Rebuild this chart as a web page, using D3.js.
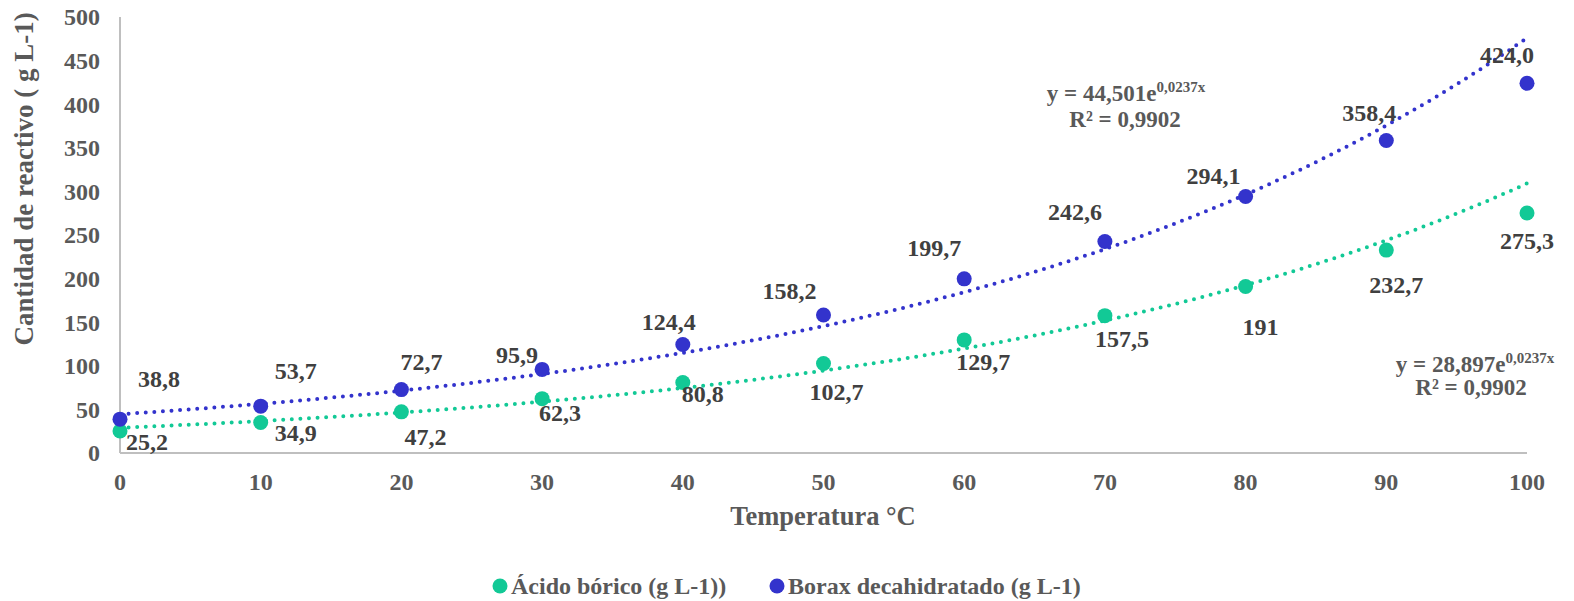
<!DOCTYPE html>
<html>
<head>
<meta charset="utf-8">
<script src="https://cdn.jsdelivr.net/npm/d3@7"></script>
<style>
  body { margin: 0; background: #fff; }
  svg text { font-family: "Liberation Serif", "Times New Roman", serif; font-weight: bold; }
</style>
</head>
<body>
<svg id="chart" width="1574" height="601"></svg>
<script>
// data
const temperatures = [0, 10, 20, 30, 40, 50, 60, 70, 80, 90, 100];
const acidoValues = [25.2, 34.9, 47.2, 62.3, 80.8, 102.7, 129.7, 157.5, 191, 232.7, 275.3];
const boraxValues = [38.8, 53.7, 72.7, 95.9, 124.4, 158.2, 199.7, 242.6, 294.1, 358.4, 424.0];
const acidoLabels = ["25,2", "34,9", "47,2", "62,3", "80,8", "102,7", "129,7", "157,5", "191", "232,7", "275,3"];
const boraxLabels = ["38,8", "53,7", "72,7", "95,9", "124,4", "158,2", "199,7", "242,6", "294,1", "358,4", "424,0"];
const yTicks = [0, 50, 100, 150, 200, 250, 300, 350, 400, 450, 500];
const xTicks = [0, 10, 20, 30, 40, 50, 60, 70, 80, 90, 100];
// exponential trendlines: a * e^(b x)
const acidoFit = [28.897, 0.0237];
const boraxFit = [44.501, 0.0237];

// label offsets (px) from each point, as placed in the original
const boraxLabelOffsets = [[39, -41], [35, -36], [20, -28], [-25, -15], [-14, -23], [-34, -24], [-30, -31], [-30, -30], [-32, -21], [-17, -28], [-20, -29]];
const acidoLabelOffsets = [[27, 11], [35, 10], [24, 25], [18, 14], [20, 11], [13, 28], [19, 22], [17, 23], [15, 40], [10, 35], [0, 28]];

const green = "#12C996";
const blue = "#3333CC";
const axisGray = "#595959";
const labelGray = "#404040";

const svg = d3.select("#chart");
const x = d3.scaleLinear().domain([0, 100]).range([120, 1527]);
const y = d3.scaleLinear().domain([0, 500]).range([453, 17]);

// axes lines
svg.append("line")
  .attr("x1", x(0)).attr("x2", x(0))
  .attr("y1", y(500)).attr("y2", y(0))
  .attr("stroke", "#bfbfbf").attr("stroke-width", 2);
svg.append("line")
  .attr("x1", x(0)).attr("x2", x(100))
  .attr("y1", y(0)).attr("y2", y(0))
  .attr("stroke", "#bfbfbf").attr("stroke-width", 2);

// y tick labels
svg.selectAll("ytick")
  .data(yTicks)
  .enter()
  .append("text")
  .attr("x", 100)
  .attr("y", (d) => y(d))
  .attr("dy", "0.35em")
  .attr("text-anchor", "end")
  .attr("fill", axisGray)
  .style("font-size", "24px")
  .text((d) => d);

// x tick labels
svg.selectAll("xtick")
  .data(xTicks)
  .enter()
  .append("text")
  .attr("x", (d) => x(d))
  .attr("y", 490)
  .attr("text-anchor", "middle")
  .attr("fill", axisGray)
  .style("font-size", "24px")
  .text((d) => d);

// axis titles
svg.append("text")
  .attr("transform", "translate(33,179) rotate(-90)")
  .attr("text-anchor", "middle")
  .attr("fill", axisGray)
  .style("font-size", "27px")
  .text("Cantidad de reactivo ( g L-1)");

svg.append("text")
  .attr("x", 823)
  .attr("y", 525)
  .attr("text-anchor", "middle")
  .attr("fill", axisGray)
  .style("font-size", "26.5px")
  .text("Temperatura °C");

// trendlines
function drawTrend(fit, color) {
  const pts = d3.range(0, 100.5, 0.5).map((t) => [t, fit[0] * Math.exp(fit[1] * t)]);
  const line = d3.line().x((d) => x(d[0])).y((d) => y(d[1]));
  svg.append("path")
    .datum(pts)
    .attr("d", line)
    .attr("fill", "none")
    .attr("stroke", color)
    .attr("stroke-width", 4)
    .attr("stroke-linecap", "round")
    .attr("stroke-dasharray", "0 8.6");
}
drawTrend(acidoFit, green);
drawTrend(boraxFit, blue);

// points
function drawPoints(values, color) {
  svg.selectAll(null)
    .data(values)
    .enter()
    .append("circle")
    .attr("cx", (d, i) => x(temperatures[i]))
    .attr("cy", (d) => y(d))
    .attr("r", 7.5)
    .attr("fill", color);
}
drawPoints(acidoValues, green);
drawPoints(boraxValues, blue);

// data labels
function drawLabels(values, labels, offsets) {
  svg.selectAll(null)
    .data(values)
    .enter()
    .append("text")
    .attr("x", (d, i) => x(temperatures[i]) + offsets[i][0])
    .attr("y", (d, i) => y(d) + offsets[i][1])
    .attr("dy", "0.35em")
    .attr("text-anchor", "middle")
    .attr("fill", labelGray)
    .style("font-size", "24px")
    .text((d, i) => labels[i]);
}
drawLabels(boraxValues, boraxLabels, boraxLabelOffsets);
drawLabels(acidoValues, acidoLabels, acidoLabelOffsets);

// trendline equations
function drawEquation(cx, cy, fit) {
  const eq = svg.append("text")
    .attr("x", cx)
    .attr("y", cy)
    .attr("text-anchor", "middle")
    .attr("fill", axisGray)
    .style("font-size", "23px");
  eq.append("tspan").text("y = " + String(fit[0]).replace(".", ",") + "e");
  eq.append("tspan")
    .attr("dy", -9)
    .style("font-size", "15px")
    .text(String(fit[1]).replace(".", ",") + "x");
}
function drawR2(cx, cy) {
  svg.append("text")
    .attr("x", cx).attr("y", cy)
    .attr("text-anchor", "middle")
    .attr("fill", axisGray)
    .style("font-size", "23px")
    .text("R² = 0,9902");
}
drawEquation(1126, 101, boraxFit);
drawR2(1125, 127);
drawEquation(1475, 372, acidoFit);
drawR2(1471, 395);

// legend
const legendItems = [
  { name: "Ácido bórico (g L-1))", color: green, x: 500 },
  { name: "Borax decahidratado (g L-1)", color: blue, x: 777 }
];
const lg = svg.selectAll("legend")
  .data(legendItems)
  .enter()
  .append("g")
  .attr("transform", (d) => `translate(${d.x},586)`);
lg.append("circle").attr("r", 7.5).attr("fill", (d) => d.color);
lg.append("text")
  .attr("x", 11)
  .attr("dy", "0.35em")
  .attr("fill", axisGray)
  .style("font-size", "24px")
  .text((d) => d.name);
</script>
</body>
</html>
